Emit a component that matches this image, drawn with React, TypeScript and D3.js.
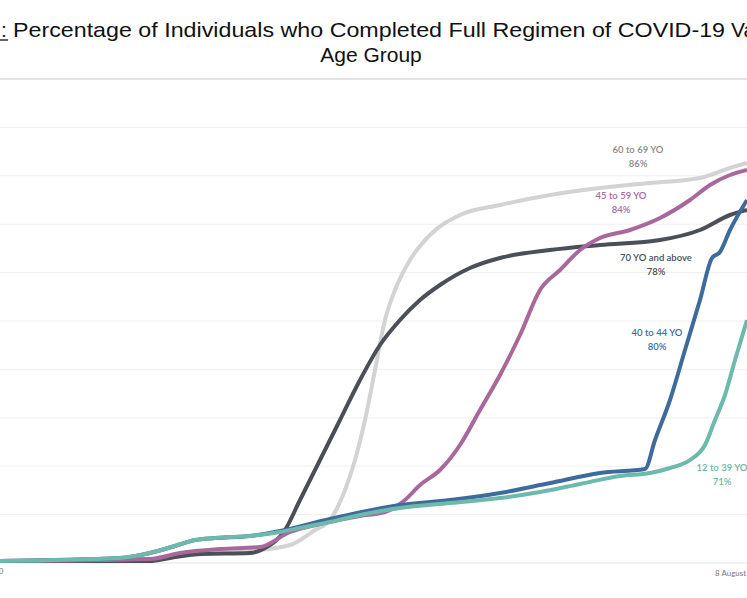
import React from 'react';
import * as d3 from 'd3';

// x positions are in "chart units" 0..747 across the visible window, y values are percent
const teal: [number, number][] = [[0,561],[120,558],[150,553],[175,546],[195,540],[215,538],[250,536],[280,532],[300,528],[330,522],[360,515],[400,508],[450,503],[500,498],[540,492],[580,484],[620,476],[650,473],[670,468],[690,460],[705,445],[715,420],[725,395],[735,360],[747,320]];
const blue: [number, number][] = [[0,561],[120,558],[150,553],[175,546],[195,540],[215,538],[250,536],[280,531],[330,519],[400,505],[450,500],[500,493],[550,483],[600,473],[645,469],[655,440],[670,400],[685,350],[700,300],[712,258],[720,252],[730,230],[747,200]];
const pink: [number, number][] = [[0,561],[150,559],[180,553],[220,549],[260,547],[290,532],[320,524],[360,516],[385,512],[405,500],[420,485],[440,470],[460,445],[480,410],[500,375],[520,335],[540,290],[560,270],[580,250],[600,238],[630,230],[660,218],[690,200],[710,185],[730,175],[747,170]];
const light: [number, number][] = [[0,561],[150,560],[180,556],[250,551],[290,545],[315,530],[330,520],[345,490],[355,460],[365,420],[375,370],[385,320],[395,290],[410,260],[430,235],[460,215],[500,205],[550,195],[600,188],[650,183],[700,178],[730,168],[747,163]];
const dark: [number, number][] = [[0,561],[150,561],[170,558],[200,554],[250,553],[265,548],[285,530],[300,500],[320,460],[340,420],[360,380],[380,345],[400,320],[420,300],[440,285],[470,268],[500,258],[550,250],[600,245],[660,240],[700,230],[730,215],[747,210]];

const toPct = (pts: [number, number][]) => pts.map(([x, y]) => [x, (563 - y) / 4.84] as [number, number]);

const series = [
  { name: '60 to 69 YO', pct: '86%', color: '#d3d3d3', data: toPct(light), lx: 638, ly: 153 },
  { name: '70 YO and above', pct: '78%', color: '#4b4f57', data: toPct(dark), lx: 656, ly: 261 },
  { name: '45 to 59 YO', pct: '84%', color: '#a8689b', data: toPct(pink), lx: 621, ly: 199 },
  { name: '40 to 44 YO', pct: '80%', color: '#3e6b9c', data: toPct(blue), lx: 657, ly: 336 },
  { name: '12 to 39 YO', pct: '71%', color: '#6db9ab', data: toPct(teal), lx: 722, ly: 471 },
];
const yTicks = [10, 20, 30, 40, 50, 60, 70, 80, 90];

export default function App() {
  const W = 747, H = 598;
  const x = d3.scaleLinear().domain([0, 747]).range([0, 747]);
  const y = d3.scaleLinear().domain([0, 100]).range([563, 79]);
  const line = d3.line<[number, number]>().x(d => x(d[0])).y(d => y(d[1])).curve(d3.curveMonotoneX);
  const font = 'Liberation Sans, Arial';
  return (
    <svg width={W} height={H} style={{ position: 'absolute', left: 0, top: 0, background: '#fff' }}>
      <text x={1} y={37} fontFamily={font} fontSize={21} fill="#111">:</text>
      <line x1={0} x2={8} y1={40} y2={40} stroke="#111" strokeWidth={1.3} />
      <text x={13} y={37} fontFamily={font} fontSize={21} fill="#111" textLength={712} lengthAdjust="spacingAndGlyphs">Percentage of Individuals who Completed Full Regimen of COVID-19</text>
      <text x={731} y={37} fontFamily={font} fontSize={21} fill="#111">Vaccines by</text>
      <text x={371} y={62} textAnchor="middle" fontFamily={font} fontSize={21} fill="#111">Age Group</text>
      <line x1={0} x2={W} y1={y(100)} y2={y(100)} stroke="#e4e4e4" strokeWidth={2} />
      {yTicks.map(t => <line key={t} x1={0} x2={W} y1={y(t)} y2={y(t)} stroke="#efefef" />)}
      <line x1={0} x2={W} y1={y(0)} y2={y(0)} stroke="#e2e2e2" />
      {series.map(s => (
        <path key={s.name} d={line(s.data) ?? ''} fill="none" stroke={s.color} strokeWidth={4} strokeLinejoin="round" />
      ))}
      {series.map(s => (
        <g key={s.name + 'l'} fontFamily="Lato, Noto Sans" fontSize={9.5} fontWeight={600} fill={s.color === '#d3d3d3' ? '#8a8a8a' : s.color} textAnchor="middle">
          <text x={s.lx} y={s.ly}>{s.name}</text>
          <text x={s.lx} y={s.ly + 14}>{s.pct}</text>
        </g>
      ))}
      <text x={-6} y={574} fontFamily="Lato, Noto Sans" fontSize={8} fill="#777">20</text>
      <text x={715} y={576} fontFamily="Lato, Noto Sans" fontSize={8} fill="#777">8 August</text>
    </svg>
  );
}
